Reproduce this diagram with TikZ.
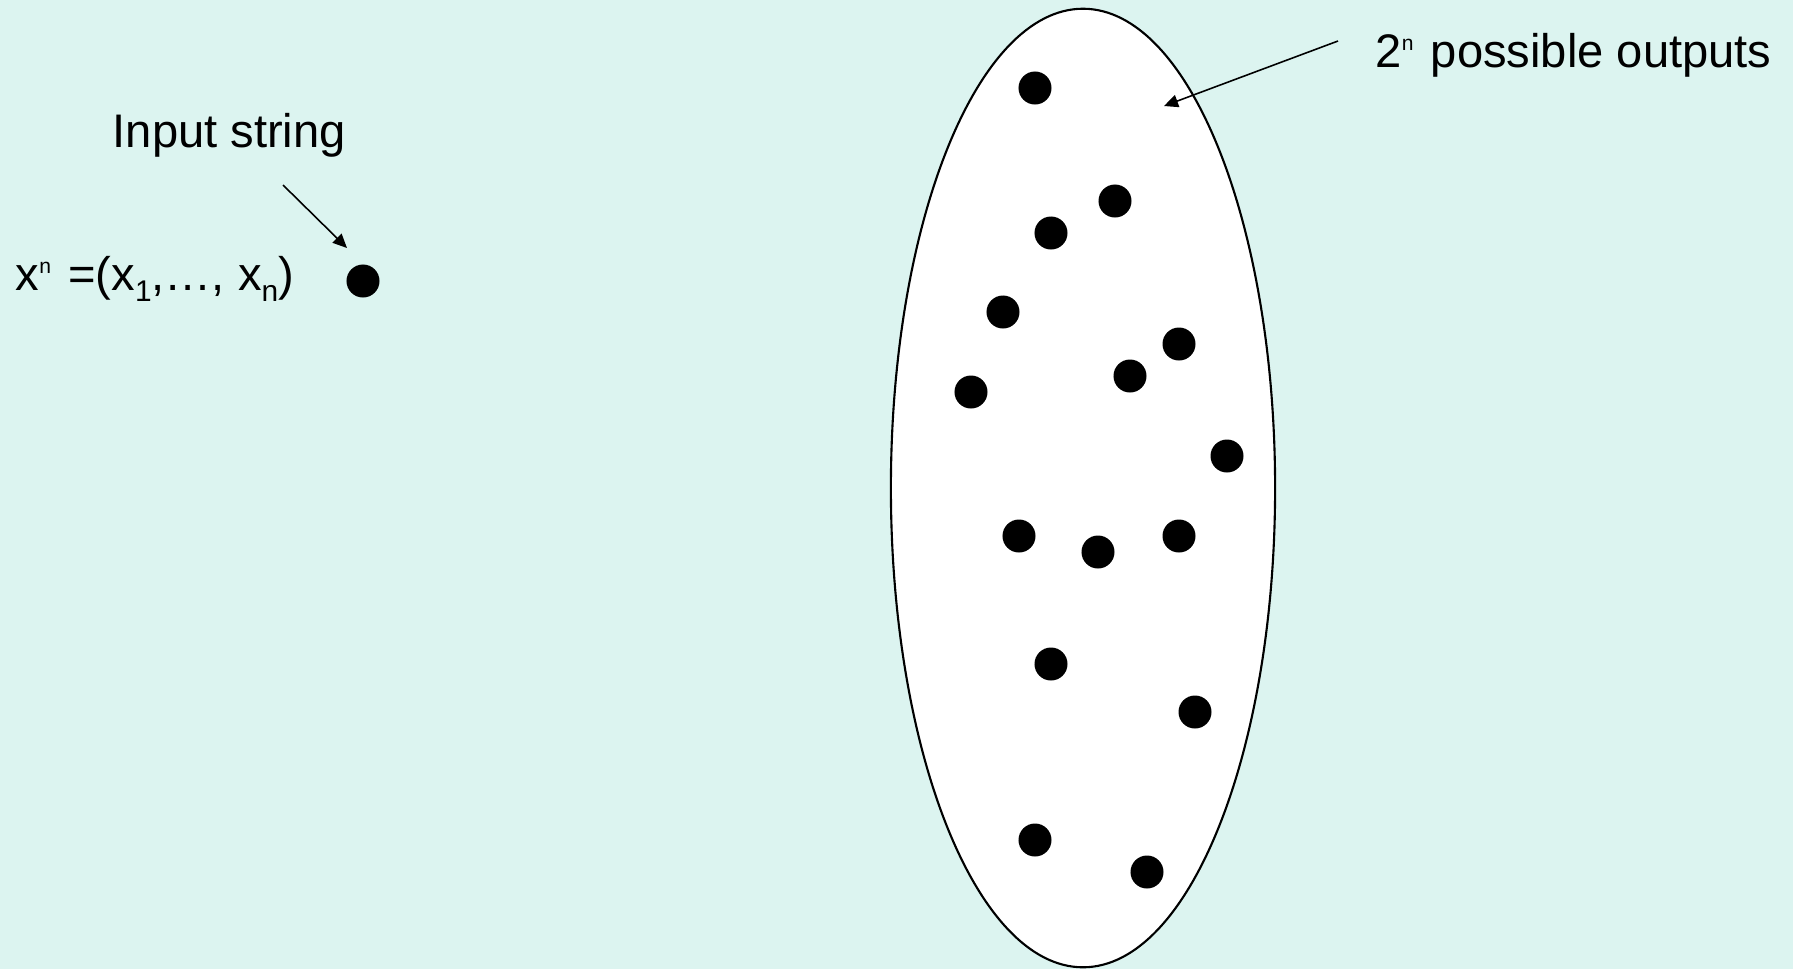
\documentclass[tikz,border=0pt]{standalone}
\usepackage{fontspec}
\setmainfont{Liberation Sans}
\usepackage{xcolor,tikz}
\usetikzlibrary{arrows.meta,shapes.geometric}
\definecolor{bgcyan}{RGB}{220,244,240}
\newcommand{\supn}[1]{\raisebox{4.6pt}{\fontsize{6}{6}\selectfont #1}\kern1.2pt\relax}
\newcommand{\subn}[1]{\raisebox{-3.4pt}{\fontsize{8.5}{8.5}\selectfont #1}}

\begin{document}
\begin{tikzpicture}[x=0.01cm,y=-0.01cm,font=\fontsize{13.4}{16}\selectfont,
  dot/.style={circle,fill=black,inner sep=0pt,minimum size=0.33cm},
  lbl/.style={anchor=base west,inner sep=0pt},
  pointer/.style={-{Triangle[length=4pt,width=3.6pt]},line width=0.45pt}]
\fill[bgcyan] (0,0) rectangle (1793,969);
\useasboundingbox (0,0) rectangle (1793,969);
% the set of outputs
\node[draw,ellipse,fill=white,line width=0.6pt,inner sep=0pt,
  minimum width=3.84cm,minimum height=9.58cm] (pool) at (1083,488) {};
\foreach \p [count=\i] in {(1035,88),(1115,201),(1051,233),(1003,312),(1179,344),
  (1130,376),(971,392),(1227,456),(1019,536),(1098,552),(1179,536),(1051,664),
  (1195,712),(1035,840),(1147,872)}
  {\node[dot] (o\i) at \p {};}
% input side
\node[dot] (inpt) at (363,281) {};
\node[lbl] (instr) at (112,147) {Input string};
\node[lbl] (xvec) at (15,290) {x\supn{n} =(x\subn{1},…, x\subn{n})};
\node[lbl] (outs) at (1375,67) {2\supn{n} possible outputs};
\coordinate (a1s) at (283,185);
\coordinate (a1e) at (347,248);
\coordinate (a2s) at (1338,41);
\coordinate (a2e) at (1164,106);
\draw[pointer] (a1s) -- (a1e);
\draw[pointer] (a2s) -- (a2e);
\end{tikzpicture}
\end{document}
